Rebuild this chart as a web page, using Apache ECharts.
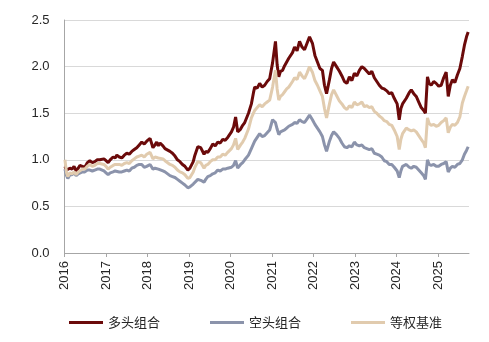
<!DOCTYPE html>
<html>
<head>
<meta charset="utf-8">
<script src="https://cdn.jsdelivr.net/npm/echarts@6/dist/echarts.min.js"></script>
<style>
  html, body { margin: 0; padding: 0; background: #fff; }
  #chart { width: 489px; height: 342px; }
</style>
</head>
<body>
<div id="chart"></div>
<script>
// Time as decimal years
const dates = [
  2016.01, 2016.05, 2016.08, 2016.13, 2016.18, 2016.23, 2016.28, 2016.33, 2016.37, 2016.43, 2016.49, 2016.55, 2016.61, 2016.67, 2016.73, 2016.79, 2016.85, 2016.95,
  2017.00, 2017.05, 2017.10, 2017.17, 2017.22, 2017.26, 2017.32, 2017.38, 2017.44, 2017.50, 2017.56, 2017.62, 2017.68, 2017.74, 2017.80, 2017.86, 2017.92, 2017.98,
  2018.02, 2018.06, 2018.13, 2018.18, 2018.22, 2018.26, 2018.30, 2018.37, 2018.42, 2018.46, 2018.54, 2018.60, 2018.66, 2018.72, 2018.78, 2018.84, 2018.90, 2018.97,
  2019.02, 2019.06, 2019.10, 2019.14, 2019.21, 2019.28, 2019.36, 2019.40, 2019.45, 2019.51, 2019.57, 2019.63, 2019.69, 2019.75, 2019.81, 2019.87, 2019.93,
  2020.02, 2020.07, 2020.12, 2020.17, 2020.24, 2020.29, 2020.34, 2020.43, 2020.50, 2020.55, 2020.58, 2020.64, 2020.70, 2020.76, 2020.82, 2020.88, 2020.94,
  2021.01, 2021.08, 2021.12, 2021.16, 2021.20, 2021.25, 2021.30, 2021.35, 2021.40, 2021.44, 2021.49, 2021.54, 2021.60, 2021.66, 2021.72, 2021.78, 2021.84, 2021.90, 2021.97,
  2022.03, 2022.09, 2022.15, 2022.21, 2022.26, 2022.31, 2022.38, 2022.43, 2022.48, 2022.55, 2022.62, 2022.68, 2022.74, 2022.80, 2022.86, 2022.92, 2022.98,
  2023.04, 2023.10, 2023.16, 2023.22, 2023.28, 2023.34, 2023.40, 2023.46, 2023.52, 2023.58, 2023.64, 2023.70, 2023.76, 2023.82, 2023.88, 2023.94,
  2024.01, 2024.06, 2024.10, 2024.14, 2024.23, 2024.30, 2024.35, 2024.41, 2024.47, 2024.53, 2024.59, 2024.65, 2024.69, 2024.74, 2024.78, 2024.83, 2024.89, 2024.95,
  2025.01, 2025.07, 2025.13, 2025.19, 2025.24, 2025.29, 2025.34, 2025.40, 2025.46, 2025.52, 2025.58, 2025.63, 2025.68, 2025.72
];

// 多头组合 net value
const longNav = [
  0.93, 0.89, 0.87, 0.91, 0.90, 0.93, 0.88, 0.91, 0.94, 0.93, 0.92, 0.97, 0.99, 0.97, 0.98, 1.00, 1.00, 1.01,
  0.99, 0.97, 1.00, 1.03, 1.02, 1.05, 1.03, 1.02, 1.05, 1.07, 1.06, 1.09, 1.11, 1.13, 1.16, 1.19, 1.17, 1.20,
  1.18, 1.23, 1.13, 1.16, 1.19, 1.15, 1.18, 1.15, 1.12, 1.13, 1.09, 1.07, 1.04, 1.00, 0.98, 0.95, 0.93, 0.89,
  0.91, 0.93, 0.98, 1.05, 1.14, 1.13, 1.06, 1.09, 1.08, 1.12, 1.17, 1.15, 1.19, 1.18, 1.22, 1.21, 1.24,
  1.30, 1.35, 1.46, 1.30, 1.33, 1.37, 1.40, 1.50, 1.60, 1.72, 1.78, 1.77, 1.82, 1.78, 1.80, 1.84, 1.87,
  2.04, 2.27, 2.02, 1.89, 1.95, 1.96, 2.01, 2.05, 2.09, 2.11, 2.15, 2.21, 2.17, 2.27, 2.21, 2.18, 2.25, 2.32, 2.25,
  2.12, 2.05, 1.98, 1.96, 1.80, 1.71, 1.86, 1.98, 2.05, 2.00, 1.95, 1.90, 1.84, 1.82, 1.89, 1.85, 1.93,
  1.90, 1.96, 2.00, 1.98, 1.95, 1.92, 1.95, 1.88, 1.84, 1.80, 1.77, 1.76, 1.74, 1.71, 1.72, 1.66,
  1.60, 1.43, 1.55, 1.60, 1.66, 1.72, 1.75, 1.71, 1.68, 1.62, 1.56, 1.53, 1.50, 1.89, 1.82, 1.80, 1.84, 1.82,
  1.79, 1.80, 1.88, 1.94, 1.68, 1.80, 1.86, 1.83, 1.91, 1.98, 2.11, 2.23, 2.32, 2.37
];

// 空头组合 net value
const shortNav = [
  0.90, 0.83, 0.80, 0.84, 0.84, 0.86, 0.83, 0.85, 0.86, 0.87, 0.87, 0.89, 0.89, 0.88, 0.89, 0.90, 0.90, 0.88,
  0.86, 0.84, 0.86, 0.87, 0.88, 0.89, 0.87, 0.87, 0.88, 0.89, 0.88, 0.91, 0.92, 0.94, 0.95, 0.95, 0.92, 0.93,
  0.94, 0.95, 0.90, 0.91, 0.92, 0.90, 0.90, 0.88, 0.87, 0.86, 0.83, 0.82, 0.81, 0.79, 0.77, 0.75, 0.73, 0.70,
  0.71, 0.73, 0.74, 0.76, 0.79, 0.78, 0.76, 0.79, 0.82, 0.83, 0.85, 0.86, 0.89, 0.88, 0.90, 0.90, 0.91,
  0.92, 0.94, 0.99, 0.91, 0.95, 0.97, 1.00, 1.05, 1.12, 1.17, 1.20, 1.24, 1.28, 1.25, 1.26, 1.29, 1.32,
  1.43, 1.40, 1.33, 1.27, 1.30, 1.31, 1.32, 1.34, 1.36, 1.37, 1.38, 1.40, 1.39, 1.43, 1.41, 1.40, 1.44, 1.48, 1.43,
  1.38, 1.34, 1.30, 1.25, 1.16, 1.09, 1.20, 1.26, 1.30, 1.27, 1.23, 1.18, 1.14, 1.13, 1.15, 1.14, 1.19,
  1.16, 1.15, 1.16, 1.13, 1.12, 1.11, 1.12, 1.07, 1.06, 1.05, 1.03, 0.99, 0.98, 0.95, 0.95, 0.92,
  0.88, 0.81, 0.88, 0.93, 0.95, 0.92, 0.91, 0.93, 0.92, 0.89, 0.86, 0.83, 0.79, 1.00, 0.95, 0.94, 0.95, 0.93,
  0.93, 0.95, 0.96, 0.98, 0.87, 0.91, 0.93, 0.92, 0.95, 0.96, 1.00, 1.06, 1.10, 1.14
];

// 等权基准 net value
const benchNav = [
  1.00, 0.86, 0.82, 0.86, 0.85, 0.87, 0.84, 0.87, 0.88, 0.90, 0.90, 0.93, 0.95, 0.93, 0.94, 0.96, 0.96, 0.95,
  0.93, 0.90, 0.92, 0.94, 0.95, 0.97, 0.95, 0.94, 0.96, 0.97, 0.96, 0.99, 1.01, 1.03, 1.04, 1.05, 1.03, 1.06,
  1.05, 1.08, 1.01, 1.03, 1.04, 1.02, 1.03, 1.01, 0.99, 0.99, 0.95, 0.94, 0.92, 0.89, 0.87, 0.86, 0.84, 0.80,
  0.81, 0.83, 0.87, 0.92, 0.98, 0.97, 0.91, 0.94, 0.95, 0.98, 1.00, 1.00, 1.03, 1.03, 1.06, 1.05, 1.08,
  1.12, 1.16, 1.23, 1.11, 1.16, 1.19, 1.23, 1.33, 1.45, 1.50, 1.53, 1.56, 1.59, 1.57, 1.60, 1.62, 1.64,
  1.78, 1.96, 1.76, 1.64, 1.68, 1.70, 1.73, 1.76, 1.78, 1.80, 1.84, 1.88, 1.86, 1.94, 1.90, 1.87, 1.93, 2.00, 1.94,
  1.85, 1.80, 1.74, 1.68, 1.55, 1.45, 1.60, 1.70, 1.75, 1.69, 1.63, 1.60, 1.56, 1.54, 1.58, 1.56, 1.62,
  1.59, 1.60, 1.62, 1.57, 1.58, 1.56, 1.57, 1.52, 1.50, 1.47, 1.45, 1.42, 1.41, 1.38, 1.37, 1.32,
  1.25, 1.11, 1.22, 1.28, 1.34, 1.32, 1.31, 1.32, 1.30, 1.26, 1.22, 1.18, 1.13, 1.45, 1.39, 1.37, 1.38, 1.36,
  1.37, 1.40, 1.42, 1.45, 1.29, 1.35, 1.38, 1.37, 1.40, 1.46, 1.61, 1.68, 1.74, 1.79
];

const yearTicks = [2016, 2017, 2018, 2019, 2020, 2021, 2022, 2023, 2024, 2025];
const seriesNames = ['多头组合', '空头组合', '等权基准'];
const seriesColors = ['#6b0a0a', '#8b93ab', '#e1cbae'];

const pair = (vals) => dates.map((d, i) => [d, vals[i]]);
const allValues = [longNav, shortNav, benchNav];
const latinFont = 'Liberation Sans, Arial, sans-serif';

const chart = echarts.init(document.getElementById('chart'), null, { renderer: 'canvas' });
chart.setOption({
  animation: false,
  backgroundColor: '#ffffff',
  grid: { left: 64.5, right: 20, top: 20, bottom: 89, containLabel: false },
  legend: {
    left: 69,
    top: 316,
    padding: 0,
    icon: 'rect',
    itemWidth: 34,
    itemHeight: 3,
    itemGap: 50,
    data: seriesNames,
    textStyle: { fontSize: 13, color: '#262626', fontFamily: 'Noto Sans CJK SC, sans-serif' }
  },
  xAxis: {
    type: 'value',
    min: 2016,
    max: 2025.74,
    splitLine: { show: false },
    axisLine: { lineStyle: { color: '#a6a6a6', width: 1 } },
    axisTick: { show: true, length: 4, customValues: yearTicks, lineStyle: { color: '#a6a6a6' } },
    axisLabel: {
      customValues: yearTicks,
      rotate: 90,
      margin: 8,
      fontSize: 13,
      fontFamily: latinFont,
      color: '#262626',
      formatter: (v) => String(Math.round(v))
    }
  },
  yAxis: {
    type: 'value',
    min: 0,
    max: 2.5,
    interval: 0.5,
    axisLine: { show: true, lineStyle: { color: '#a6a6a6', width: 1 } },
    axisTick: { show: false },
    splitLine: { lineStyle: { color: '#d9d9d9', width: 1 } },
    axisLabel: {
      margin: 15,
      fontSize: 13,
      fontFamily: latinFont,
      color: '#262626',
      formatter: (v) => v.toFixed(1)
    }
  },
  series: seriesNames.map((name, i) => ({
    name,
    type: 'line',
    data: pair(allValues[i]),
    showSymbol: false,
    symbol: 'none',
    lineStyle: { color: seriesColors[i], width: 3 },
    itemStyle: { color: seriesColors[i] }
  }))
});
</script>
</body>
</html>
